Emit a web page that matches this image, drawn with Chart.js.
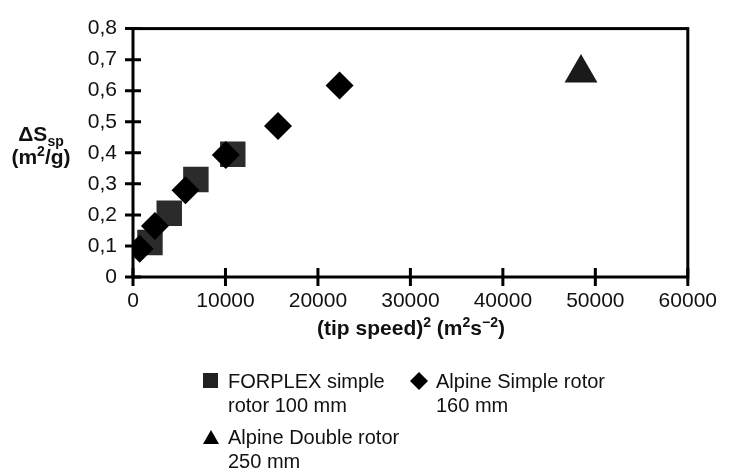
<!DOCTYPE html>
<html>
<head>
<meta charset="utf-8">
<script src="https://cdn.jsdelivr.net/npm/chart.js@4.4.0/dist/chart.umd.min.js"></script>
<style>
    body { margin: 0; background: #fff; }
    #wrap { position: relative; width: 729px; height: 476px; font-family: "Liberation Sans", Arial, sans-serif; color: #111; }
    #chart01 { position: absolute; left: 0; top: 0; }
    .lbl { position: absolute; white-space: nowrap; font-size: 20px; line-height: 24px; }
    .bold { font-weight: bold; font-size: 21px; }
    sup, sub { font-size: 14px; line-height: 0; }
    .mk { position: absolute; }
</style>
</head>
<body>
<div id="wrap">
    <canvas id="chart01" width="729" height="476"></canvas>
    <div class="lbl bold" style="left:6px; top:122px; text-align:center; width:70px; line-height:23px;">&Delta;S<sub>sp</sub><br>(m<sup>2</sup>/g)</div>
    <div class="lbl bold" style="left:0; width:822px; top:316px; text-align:center;">(tip speed)<sup>2</sup> (m<sup>2</sup>s<sup>&minus;2</sup>)</div>

    <svg class="mk" style="left:203px; top:373px;" width="15" height="15"><rect x="0" y="0" width="15" height="15" fill="#222"/></svg>
    <div class="lbl" style="left:228px; top:369px;">FORPLEX simple<br>rotor 100 mm</div>
    <svg class="mk" style="left:410px; top:372px;" width="18" height="18"><polygon points="9,0 18,9 9,18 0,9" fill="#000"/></svg>
    <div class="lbl" style="left:436px; top:369px;">Alpine Simple rotor<br>160 mm</div>
    <svg class="mk" style="left:203px; top:430px;" width="16" height="14"><polygon points="8,0 16,14 0,14" fill="#000"/></svg>
    <div class="lbl" style="left:228px; top:425px;">Alpine Double rotor<br>250 mm</div>
</div>
<script>
// valores
const forplexX = [1835, 3920, 6800, 10790];
const forplexY = [0.111, 0.205, 0.314, 0.395];
const alpineSimpleX = [720, 2374, 5680, 10040, 15680, 22340];
const alpineSimpleY = [0.091, 0.164, 0.279, 0.393, 0.486, 0.617];
const alpineDoubleX = [48450];
const alpineDoubleY = [0.657];

const xTicks = [0, 10000, 20000, 30000, 40000, 50000, 60000];
const yTicks = [0, 0.1, 0.2, 0.3, 0.4, 0.5, 0.6, 0.7, 0.8];

const ctx01 = document.getElementById('chart01');

function toPoints(xs, ys) {
    return xs.map((x, i) => ({ x: x, y: ys[i] }));
}

// moldura + ticks cruzando o eixo
const frameTicks = {
    id: 'frameTicks',
    beforeDatasetsDraw(chart) {
        const { ctx, chartArea: a, scales } = chart;
        ctx.save();
        ctx.strokeStyle = '#000';
        ctx.lineWidth = 3;
        ctx.strokeRect(a.left, a.top, a.right - a.left, a.bottom - a.top);
        ctx.beginPath();
        scales.x.ticks.forEach((t, i) => {
            const px = scales.x.getPixelForTick(i);
            ctx.moveTo(px, a.bottom - 9);
            ctx.lineTo(px, a.bottom + 9);
        });
        scales.y.ticks.forEach((t, i) => {
            const py = scales.y.getPixelForTick(i);
            ctx.moveTo(a.left - 8, py);
            ctx.lineTo(a.left + 8, py);
        });
        ctx.stroke();
        ctx.restore();
    }
};

const tickFont = { family: '"Liberation Sans", Arial, sans-serif', size: 21 };

const chart = new Chart(ctx01, {
    type: 'scatter',
    data: {
        datasets: [{
            label: 'FORPLEX simple rotor 100 mm',
            data: toPoints(forplexX, forplexY),
            pointStyle: 'rect',
            pointRadius: 18,
            backgroundColor: '#2b2b2b',
            borderWidth: 0,
            order: 1
        }, {
            label: 'Alpine Simple rotor 160 mm',
            data: toPoints(alpineSimpleX, alpineSimpleY),
            pointStyle: 'rectRot',
            pointRadius: 14,
            backgroundColor: '#000',
            borderWidth: 0,
            order: 0
        }, {
            label: 'Alpine Double rotor 250 mm',
            data: toPoints(alpineDoubleX, alpineDoubleY),
            pointStyle: 'triangle',
            pointRadius: 19,
            backgroundColor: '#1a1a1a',
            borderWidth: 0,
            order: 2
        }]
    },
    options: {
        responsive: false,
        animation: false,
        layout: { padding: { left: 0, top: 15, right: 40, bottom: 0 } },
        plugins: { legend: { display: false }, tooltip: { enabled: false } },
        scales: {
            x: {
                min: 0,
                max: 60000,
                afterBuildTicks: (s) => { s.ticks = xTicks.map(v => ({ value: v })); },
                afterFit: (s) => { s.height = 199; },
                grid: { display: false, drawTicks: false },
                border: { display: false },
                ticks: { color: '#111', font: tickFont, padding: 12, maxRotation: 0, callback: (v) => String(v) }
            },
            y: {
                min: 0,
                max: 0.8,
                afterBuildTicks: (s) => { s.ticks = yTicks.map(v => ({ value: v })); },
                afterFit: (s) => { s.width = 133; },
                grid: { display: false, drawTicks: false },
                border: { display: false },
                ticks: { color: '#111', font: tickFont, padding: 16, callback: (v) => v === 0 ? '0' : v.toFixed(1).replace('.', ',') }
            }
        }
    },
    plugins: [frameTicks]
});
</script>
</body>
</html>
